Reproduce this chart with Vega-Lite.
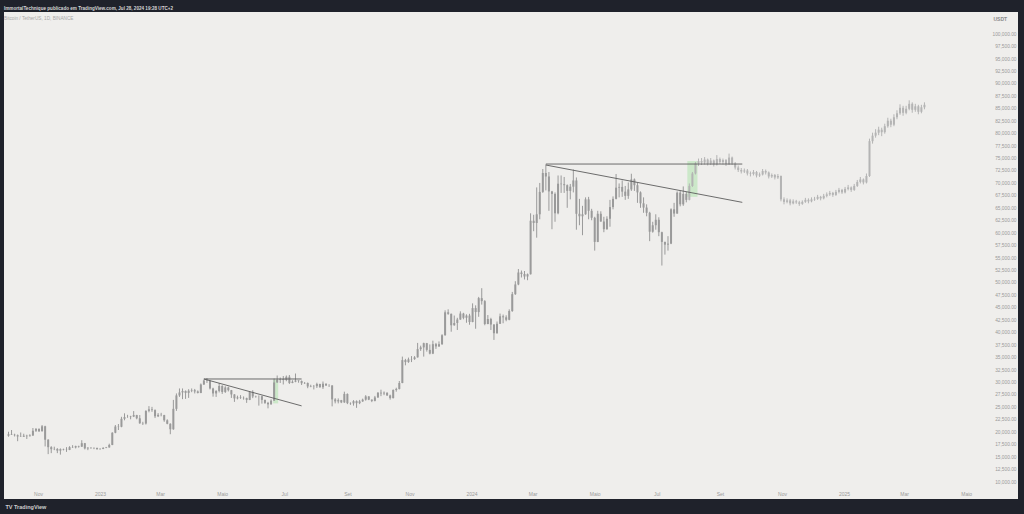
{
"$schema":"https://vega.github.io/schema/vega-lite/v6.json",
"width":1014,"height":487,
"autosize":{"type":"none"},
"padding":{"left":4,"top":12,"right":6,"bottom":15},
"background":"#1f222b",
"config":{"view":{"fill":"#efeeec","stroke":null},
"axisY":{"orient":"right","values":[10000,12500,15000,17500,20000,22500,25000,27500,30000,32500,35000,37500,40000,42500,45000,47500,50000,52500,55000,57500,60000,62500,65000,67500,70000,72500,75000,77500,80000,82500,85000,87500,90000,92500,95000,97500,100000],"format":",.2f","domain":false,"ticks":false,"grid":false,"labelAlign":"right","labelPadding":-2,"labelFontSize":4.8,"labelColor":"#9a9a9a","labelFont":"Liberation Sans","labelBaseline":"middle","labelOverlap":false,"labelFlush":false,"titleAngle":0,"titleX":-25,"titleY":6,"titleAlign":"left","titleBaseline":"middle","titleFontSize":5,"titleColor":"#8a8a8a","titleFont":"Liberation Sans"}},
"title":{"text":"ImmortalTechnique publicado em TradingView.com, Jul 28, 2024 19:28 UTC+2","subtitle":"Bitcoin / TetherUS, 1D, BINANCE","anchor":"start","frame":"group","offset":-9,"fontSize":4.6,"fontWeight":"bold","color":"#d6d6d6","font":"Liberation Sans","subtitleFontSize":4.7,"subtitleColor":"#a8a8a8","subtitleFont":"Liberation Sans","subtitlePadding":6},
"datasets":{
"lines":[
{"t":"2024-03-14","t2":"2024-09-23","p":73900,"p2":73900},
{"t":"2024-03-14","t2":"2024-09-23","p":73700,"p2":66200},
{"t":"2023-04-13","t2":"2023-07-18","p":30700,"p2":30700},
{"t":"2023-04-13","t2":"2023-07-18","p":30700,"p2":25300}
],
"boxes":[
{"t":"2023-06-20","t2":"2023-06-25","p":25800,"p2":30600},
{"t":"2024-07-31","t2":"2024-08-10","p":67300,"p2":74500}
],
"candles":[
{"t":"2022-10-03","o":19300,"h":20100,"l":19100,"c":19600,"s":"r"},
{"t":"2022-10-06","o":19600,"h":20450,"l":19450,"c":19500,"s":"r"},
{"t":"2022-10-09","o":19500,"h":19700,"l":19150,"c":19400,"s":"r"},
{"t":"2022-10-12","o":19400,"h":19550,"l":18200,"c":19150,"s":"r"},
{"t":"2022-10-15","o":19150,"h":19950,"l":19050,"c":19100,"s":"r"},
{"t":"2022-10-18","o":19100,"h":19700,"l":19050,"c":19300,"s":"r"},
{"t":"2022-10-21","o":19300,"h":19500,"l":18650,"c":19200,"s":"r"},
{"t":"2022-10-24","o":19200,"h":19600,"l":19150,"c":19350,"s":"r"},
{"t":"2022-10-27","o":19350,"h":20850,"l":19250,"c":20300,"s":"r"},
{"t":"2022-10-30","o":20300,"h":20850,"l":20050,"c":20650,"s":"r"},
{"t":"2022-11-02","o":20650,"h":20800,"l":20050,"c":20200,"s":"r"},
{"t":"2022-11-05","o":20200,"h":21450,"l":20150,"c":21200,"s":"r"},
{"t":"2022-11-08","o":21200,"h":21300,"l":17150,"c":18500,"s":"r"},
{"t":"2022-11-11","o":18500,"h":18600,"l":15600,"c":17000,"s":"r"},
{"t":"2022-11-14","o":17000,"h":17200,"l":15800,"c":16600,"s":"r"},
{"t":"2022-11-17","o":16600,"h":17100,"l":16400,"c":16650,"s":"r"},
{"t":"2022-11-20","o":16650,"h":16800,"l":15800,"c":16300,"s":"r"},
{"t":"2022-11-23","o":16300,"h":16750,"l":15500,"c":16600,"s":"r"},
{"t":"2022-11-26","o":16600,"h":16700,"l":16350,"c":16500,"s":"r"},
{"t":"2022-11-29","o":16500,"h":17000,"l":16050,"c":16450,"s":"r"},
{"t":"2022-12-02","o":16450,"h":17200,"l":16400,"c":17000,"s":"r"},
{"t":"2022-12-05","o":17000,"h":17400,"l":16850,"c":16950,"s":"r"},
{"t":"2022-12-08","o":16950,"h":17300,"l":16750,"c":17200,"s":"r"},
{"t":"2022-12-11","o":17200,"h":17300,"l":16900,"c":17100,"s":"r"},
{"t":"2022-12-14","o":17100,"h":18400,"l":17050,"c":17800,"s":"r"},
{"t":"2022-12-17","o":17800,"h":17850,"l":16550,"c":16750,"s":"r"},
{"t":"2022-12-20","o":16750,"h":17000,"l":16400,"c":16900,"s":"r"},
{"t":"2022-12-23","o":16900,"h":16950,"l":16700,"c":16800,"s":"r"},
{"t":"2022-12-26","o":16800,"h":16950,"l":16600,"c":16850,"s":"r"},
{"t":"2022-12-29","o":16850,"h":16900,"l":16500,"c":16600,"s":"r"},
{"t":"2023-01-01","o":16600,"h":16800,"l":16500,"c":16650,"s":"r"},
{"t":"2023-01-04","o":16650,"h":17000,"l":16600,"c":16850,"s":"r"},
{"t":"2023-01-07","o":16850,"h":17050,"l":16800,"c":16950,"s":"r"},
{"t":"2023-01-10","o":16950,"h":17700,"l":16900,"c":17450,"s":"r"},
{"t":"2023-01-13","o":17450,"h":20000,"l":17400,"c":19900,"s":"r"},
{"t":"2023-01-16","o":19900,"h":21450,"l":19800,"c":21150,"s":"r"},
{"t":"2023-01-19","o":21150,"h":21650,"l":20450,"c":21100,"s":"r"},
{"t":"2023-01-22","o":21100,"h":23100,"l":21000,"c":22700,"s":"r"},
{"t":"2023-01-25","o":22700,"h":23800,"l":22400,"c":23050,"s":"r"},
{"t":"2023-01-28","o":23050,"h":23500,"l":22900,"c":23050,"s":"r"},
{"t":"2023-01-31","o":23050,"h":23300,"l":22600,"c":23150,"s":"r"},
{"t":"2023-02-03","o":23150,"h":24250,"l":23050,"c":23450,"s":"r"},
{"t":"2023-02-06","o":23450,"h":23500,"l":22600,"c":22800,"s":"r"},
{"t":"2023-02-09","o":22800,"h":23450,"l":21700,"c":21800,"s":"r"},
{"t":"2023-02-12","o":21800,"h":22100,"l":21450,"c":21750,"s":"r"},
{"t":"2023-02-15","o":21750,"h":24400,"l":21550,"c":24300,"s":"r"},
{"t":"2023-02-18","o":24300,"h":25250,"l":24000,"c":24600,"s":"r"},
{"t":"2023-02-21","o":24600,"h":25100,"l":24100,"c":24450,"s":"r"},
{"t":"2023-02-24","o":24450,"h":24600,"l":22850,"c":23200,"s":"r"},
{"t":"2023-02-27","o":23200,"h":23850,"l":23050,"c":23500,"s":"r"},
{"t":"2023-03-02","o":23500,"h":23900,"l":23200,"c":23450,"s":"r"},
{"t":"2023-03-05","o":23450,"h":23500,"l":22100,"c":22400,"s":"r"},
{"t":"2023-03-08","o":22400,"h":22600,"l":21600,"c":21700,"s":"r"},
{"t":"2023-03-11","o":21700,"h":21800,"l":19600,"c":20600,"s":"r"},
{"t":"2023-03-14","o":20600,"h":26500,"l":20500,"c":24700,"s":"r"},
{"t":"2023-03-17","o":24700,"h":27800,"l":24300,"c":27400,"s":"r"},
{"t":"2023-03-20","o":27400,"h":28800,"l":27100,"c":28000,"s":"r"},
{"t":"2023-03-23","o":28000,"h":28800,"l":26650,"c":28300,"s":"r"},
{"t":"2023-03-26","o":28300,"h":28400,"l":26700,"c":27900,"s":"r"},
{"t":"2023-03-29","o":27900,"h":28650,"l":26900,"c":28350,"s":"r"},
{"t":"2023-04-01","o":28350,"h":28800,"l":28050,"c":28450,"s":"r"},
{"t":"2023-04-04","o":28450,"h":28700,"l":27800,"c":28200,"s":"r"},
{"t":"2023-04-07","o":28200,"h":28400,"l":27800,"c":27900,"s":"r"},
{"t":"2023-04-10","o":27900,"h":29800,"l":27850,"c":29600,"s":"r"},
{"t":"2023-04-13","o":29600,"h":30600,"l":29500,"c":30400,"s":"r"},
{"t":"2023-04-16","o":30400,"h":30900,"l":29900,"c":30300,"s":"r"},
{"t":"2023-04-19","o":30300,"h":30500,"l":28600,"c":28800,"s":"r"},
{"t":"2023-04-22","o":28800,"h":28950,"l":27150,"c":27800,"s":"r"},
{"t":"2023-04-25","o":27800,"h":28450,"l":27100,"c":28300,"s":"r"},
{"t":"2023-04-28","o":28300,"h":29900,"l":28000,"c":29300,"s":"r"},
{"t":"2023-05-01","o":29300,"h":29450,"l":27700,"c":28100,"s":"r"},
{"t":"2023-05-04","o":28100,"h":29250,"l":27900,"c":29000,"s":"r"},
{"t":"2023-05-07","o":29000,"h":29150,"l":28200,"c":28450,"s":"r"},
{"t":"2023-05-10","o":28450,"h":28500,"l":26900,"c":27600,"s":"r"},
{"t":"2023-05-13","o":27600,"h":27650,"l":26100,"c":26800,"s":"r"},
{"t":"2023-05-16","o":26800,"h":27350,"l":26600,"c":27000,"s":"r"},
{"t":"2023-05-19","o":27000,"h":27450,"l":26700,"c":26900,"s":"r"},
{"t":"2023-05-22","o":26900,"h":27200,"l":26550,"c":26850,"s":"r"},
{"t":"2023-05-25","o":26850,"h":26950,"l":25900,"c":26500,"s":"r"},
{"t":"2023-05-28","o":26500,"h":28250,"l":26450,"c":28100,"s":"r"},
{"t":"2023-05-31","o":28100,"h":28450,"l":26850,"c":27200,"s":"r"},
{"t":"2023-06-03","o":27200,"h":27350,"l":26950,"c":27250,"s":"r"},
{"t":"2023-06-06","o":27250,"h":27400,"l":25350,"c":27250,"s":"r"},
{"t":"2023-06-09","o":27250,"h":27350,"l":25750,"c":26500,"s":"r"},
{"t":"2023-06-12","o":26500,"h":26550,"l":25700,"c":25900,"s":"r"},
{"t":"2023-06-15","o":25900,"h":26100,"l":24800,"c":25600,"s":"r"},
{"t":"2023-06-18","o":25600,"h":26600,"l":25550,"c":26350,"s":"r"},
{"t":"2023-06-21","o":26350,"h":30800,"l":26300,"c":30000,"s":"r"},
{"t":"2023-06-24","o":30000,"h":31400,"l":29950,"c":30550,"s":"r"},
{"t":"2023-06-27","o":30550,"h":31000,"l":29900,"c":30700,"s":"r"},
{"t":"2023-06-30","o":30700,"h":31300,"l":29600,"c":30500,"s":"r"},
{"t":"2023-07-03","o":30500,"h":31400,"l":30250,"c":31150,"s":"r"},
{"t":"2023-07-06","o":31150,"h":31500,"l":29700,"c":29900,"s":"r"},
{"t":"2023-07-09","o":29900,"h":30450,"l":29850,"c":30150,"s":"r"},
{"t":"2023-07-12","o":30150,"h":31800,"l":30050,"c":30400,"s":"r"},
{"t":"2023-07-15","o":30400,"h":30450,"l":29950,"c":30300,"s":"r"},
{"t":"2023-07-18","o":30300,"h":30400,"l":29500,"c":29850,"s":"r"},
{"t":"2023-07-21","o":29850,"h":30100,"l":29700,"c":29900,"s":"r"},
{"t":"2023-07-24","o":29900,"h":30000,"l":28850,"c":29200,"s":"r"},
{"t":"2023-07-27","o":29200,"h":29550,"l":29050,"c":29300,"s":"r"},
{"t":"2023-07-30","o":29300,"h":29500,"l":28600,"c":29250,"s":"r"},
{"t":"2023-08-02","o":29250,"h":29950,"l":28900,"c":29700,"s":"r"},
{"t":"2023-08-05","o":29700,"h":29750,"l":28950,"c":29050,"s":"r"},
{"t":"2023-08-08","o":29050,"h":30200,"l":28700,"c":29750,"s":"r"},
{"t":"2023-08-11","o":29750,"h":29800,"l":29300,"c":29400,"s":"r"},
{"t":"2023-08-14","o":29400,"h":29650,"l":29100,"c":29400,"s":"r"},
{"t":"2023-08-17","o":29400,"h":29450,"l":25200,"c":26600,"s":"r"},
{"t":"2023-08-20","o":26600,"h":26850,"l":25800,"c":26200,"s":"r"},
{"t":"2023-08-23","o":26200,"h":26800,"l":25800,"c":26450,"s":"r"},
{"t":"2023-08-26","o":26450,"h":26500,"l":25850,"c":26000,"s":"r"},
{"t":"2023-08-29","o":26000,"h":28150,"l":25900,"c":27700,"s":"r"},
{"t":"2023-09-01","o":27700,"h":27800,"l":25650,"c":25850,"s":"r"},
{"t":"2023-09-04","o":25850,"h":26000,"l":25500,"c":25800,"s":"r"},
{"t":"2023-09-07","o":25800,"h":26450,"l":25350,"c":26250,"s":"r"},
{"t":"2023-09-10","o":26250,"h":26400,"l":24900,"c":25850,"s":"r"},
{"t":"2023-09-13","o":25850,"h":26500,"l":25650,"c":26200,"s":"r"},
{"t":"2023-09-16","o":26200,"h":26750,"l":26100,"c":26550,"s":"r"},
{"t":"2023-09-19","o":26550,"h":27450,"l":26350,"c":27200,"s":"r"},
{"t":"2023-09-22","o":27200,"h":27250,"l":26450,"c":26550,"s":"r"},
{"t":"2023-09-25","o":26550,"h":26600,"l":26050,"c":26300,"s":"r"},
{"t":"2023-09-28","o":26300,"h":27300,"l":26200,"c":27000,"s":"r"},
{"t":"2023-10-01","o":27000,"h":28050,"l":26900,"c":27950,"s":"r"},
{"t":"2023-10-04","o":27950,"h":28550,"l":27250,"c":27800,"s":"r"},
{"t":"2023-10-07","o":27800,"h":28200,"l":27450,"c":27950,"s":"r"},
{"t":"2023-10-10","o":27950,"h":28000,"l":27300,"c":27400,"s":"r"},
{"t":"2023-10-13","o":27400,"h":27550,"l":26550,"c":26850,"s":"r"},
{"t":"2023-10-16","o":26850,"h":28600,"l":26800,"c":28500,"s":"r"},
{"t":"2023-10-19","o":28500,"h":28950,"l":28150,"c":28700,"s":"r"},
{"t":"2023-10-22","o":28700,"h":30300,"l":28600,"c":29900,"s":"r"},
{"t":"2023-10-25","o":29900,"h":35200,"l":29850,"c":34500,"s":"r"},
{"t":"2023-10-28","o":34500,"h":34750,"l":33450,"c":34100,"s":"r"},
{"t":"2023-10-31","o":34100,"h":35000,"l":33950,"c":34650,"s":"r"},
{"t":"2023-11-03","o":34650,"h":35300,"l":34100,"c":34700,"s":"r"},
{"t":"2023-11-06","o":34700,"h":35300,"l":34550,"c":35050,"s":"r"},
{"t":"2023-11-09","o":35050,"h":37950,"l":35000,"c":36700,"s":"r"},
{"t":"2023-11-12","o":36700,"h":37400,"l":36350,"c":37050,"s":"r"},
{"t":"2023-11-15","o":37050,"h":38000,"l":35200,"c":37900,"s":"r"},
{"t":"2023-11-18","o":37900,"h":37950,"l":36200,"c":36550,"s":"r"},
{"t":"2023-11-21","o":36550,"h":37650,"l":35650,"c":35800,"s":"r"},
{"t":"2023-11-24","o":35800,"h":38400,"l":35700,"c":37700,"s":"r"},
{"t":"2023-11-27","o":37700,"h":37950,"l":36750,"c":37250,"s":"r"},
{"t":"2023-11-30","o":37250,"h":38250,"l":37150,"c":37700,"s":"r"},
{"t":"2023-12-03","o":37700,"h":39700,"l":37550,"c":39500,"s":"r"},
{"t":"2023-12-06","o":39500,"h":44500,"l":39400,"c":44100,"s":"r"},
{"t":"2023-12-09","o":44100,"h":44700,"l":43600,"c":43800,"s":"r"},
{"t":"2023-12-12","o":43800,"h":43850,"l":40200,"c":41500,"s":"r"},
{"t":"2023-12-15","o":41500,"h":43450,"l":41400,"c":41950,"s":"r"},
{"t":"2023-12-18","o":41950,"h":43000,"l":40550,"c":42650,"s":"r"},
{"t":"2023-12-21","o":42650,"h":44300,"l":42600,"c":43850,"s":"r"},
{"t":"2023-12-24","o":43850,"h":44000,"l":42700,"c":43000,"s":"r"},
{"t":"2023-12-27","o":43000,"h":43700,"l":42000,"c":43450,"s":"r"},
{"t":"2023-12-30","o":43450,"h":43800,"l":41600,"c":42150,"s":"r"},
{"t":"2024-01-02","o":42150,"h":45900,"l":42100,"c":44950,"s":"r"},
{"t":"2024-01-05","o":44950,"h":45500,"l":40800,"c":44150,"s":"r"},
{"t":"2024-01-08","o":44150,"h":47200,"l":43200,"c":46950,"s":"r"},
{"t":"2024-01-11","o":46950,"h":48950,"l":45650,"c":46350,"s":"r"},
{"t":"2024-01-14","o":46350,"h":46550,"l":41500,"c":41750,"s":"r"},
{"t":"2024-01-17","o":41750,"h":43550,"l":41700,"c":42750,"s":"r"},
{"t":"2024-01-20","o":42750,"h":43000,"l":40550,"c":41650,"s":"r"},
{"t":"2024-01-23","o":41650,"h":41700,"l":38550,"c":39900,"s":"r"},
{"t":"2024-01-26","o":39900,"h":42250,"l":39800,"c":41800,"s":"r"},
{"t":"2024-01-29","o":41800,"h":43850,"l":41750,"c":43300,"s":"r"},
{"t":"2024-02-01","o":43300,"h":43650,"l":41900,"c":43100,"s":"r"},
{"t":"2024-02-04","o":43100,"h":43500,"l":42300,"c":42600,"s":"r"},
{"t":"2024-02-07","o":42600,"h":44700,"l":42500,"c":44350,"s":"r"},
{"t":"2024-02-10","o":44350,"h":48200,"l":44200,"c":47750,"s":"r"},
{"t":"2024-02-13","o":47750,"h":50350,"l":47600,"c":49700,"s":"r"},
{"t":"2024-02-16","o":49700,"h":52800,"l":49550,"c":52100,"s":"r"},
{"t":"2024-02-19","o":52100,"h":52500,"l":51100,"c":51800,"s":"r"},
{"t":"2024-02-22","o":51800,"h":52400,"l":50700,"c":51300,"s":"r"},
{"t":"2024-02-25","o":51300,"h":51900,"l":50550,"c":51750,"s":"r"},
{"t":"2024-02-28","o":51750,"h":64000,"l":51700,"c":62500,"s":"r"},
{"t":"2024-03-02","o":62500,"h":63700,"l":60400,"c":62050,"s":"r"},
{"t":"2024-03-05","o":62050,"h":69200,"l":59100,"c":63800,"s":"r"},
{"t":"2024-03-08","o":63800,"h":70100,"l":62800,"c":68300,"s":"r"},
{"t":"2024-03-11","o":68300,"h":72900,"l":68100,"c":72100,"s":"r"},
{"t":"2024-03-14","o":72100,"h":73800,"l":68600,"c":71400,"s":"r"},
{"t":"2024-03-17","o":71400,"h":72300,"l":64500,"c":68400,"s":"r"},
{"t":"2024-03-20","o":68400,"h":68500,"l":60800,"c":67900,"s":"r"},
{"t":"2024-03-23","o":67900,"h":68200,"l":62300,"c":64000,"s":"r"},
{"t":"2024-03-26","o":64000,"h":71600,"l":63800,"c":69950,"s":"r"},
{"t":"2024-03-29","o":69950,"h":71600,"l":68100,"c":69850,"s":"r"},
{"t":"2024-04-01","o":69850,"h":71300,"l":68100,"c":69650,"s":"r"},
{"t":"2024-04-04","o":69650,"h":69800,"l":65100,"c":68500,"s":"r"},
{"t":"2024-04-07","o":68500,"h":69900,"l":66800,"c":69350,"s":"r"},
{"t":"2024-04-10","o":69350,"h":72800,"l":68200,"c":70600,"s":"r"},
{"t":"2024-04-13","o":70600,"h":71200,"l":60700,"c":63900,"s":"r"},
{"t":"2024-04-16","o":63900,"h":66900,"l":61600,"c":63400,"s":"r"},
{"t":"2024-04-19","o":63400,"h":65500,"l":59600,"c":63800,"s":"r"},
{"t":"2024-04-22","o":63800,"h":67200,"l":63700,"c":66800,"s":"r"},
{"t":"2024-04-25","o":66800,"h":67300,"l":62800,"c":64500,"s":"r"},
{"t":"2024-04-28","o":64500,"h":64900,"l":62600,"c":63100,"s":"r"},
{"t":"2024-05-01","o":63100,"h":63300,"l":56500,"c":58250,"s":"r"},
{"t":"2024-05-04","o":58250,"h":64500,"l":58200,"c":63900,"s":"r"},
{"t":"2024-05-07","o":63900,"h":64400,"l":62300,"c":62350,"s":"r"},
{"t":"2024-05-10","o":62350,"h":63300,"l":60200,"c":60800,"s":"r"},
{"t":"2024-05-13","o":60800,"h":63400,"l":60700,"c":62900,"s":"r"},
{"t":"2024-05-16","o":62900,"h":66700,"l":61300,"c":65250,"s":"r"},
{"t":"2024-05-19","o":65250,"h":67400,"l":64800,"c":66900,"s":"r"},
{"t":"2024-05-22","o":66900,"h":71900,"l":66800,"c":69150,"s":"r"},
{"t":"2024-05-25","o":69150,"h":70000,"l":67200,"c":69300,"s":"r"},
{"t":"2024-05-28","o":69300,"h":70600,"l":67300,"c":68350,"s":"r"},
{"t":"2024-05-31","o":68350,"h":69500,"l":66700,"c":67500,"s":"r"},
{"t":"2024-06-03","o":67500,"h":70200,"l":66900,"c":68800,"s":"r"},
{"t":"2024-06-06","o":68800,"h":71950,"l":68500,"c":70800,"s":"r"},
{"t":"2024-06-09","o":70800,"h":71000,"l":68500,"c":69650,"s":"r"},
{"t":"2024-06-12","o":69650,"h":70100,"l":66100,"c":68200,"s":"r"},
{"t":"2024-06-15","o":68200,"h":68400,"l":65100,"c":66000,"s":"r"},
{"t":"2024-06-18","o":66000,"h":67200,"l":64100,"c":65150,"s":"r"},
{"t":"2024-06-21","o":65150,"h":65800,"l":63400,"c":64100,"s":"r"},
{"t":"2024-06-24","o":64100,"h":64300,"l":58400,"c":60300,"s":"r"},
{"t":"2024-06-27","o":60300,"h":62300,"l":60100,"c":61600,"s":"r"},
{"t":"2024-06-30","o":61600,"h":63800,"l":60700,"c":62700,"s":"r"},
{"t":"2024-07-03","o":62700,"h":63200,"l":59400,"c":60200,"s":"r"},
{"t":"2024-07-06","o":60200,"h":60300,"l":53500,"c":58250,"s":"r"},
{"t":"2024-07-09","o":58250,"h":58300,"l":55700,"c":57700,"s":"r"},
{"t":"2024-07-12","o":57700,"h":59400,"l":56500,"c":57900,"s":"r"},
{"t":"2024-07-15","o":57900,"h":65000,"l":57800,"c":64800,"s":"r"},
{"t":"2024-07-18","o":64800,"h":66100,"l":63300,"c":63950,"s":"r"},
{"t":"2024-07-21","o":63950,"h":68400,"l":63900,"c":68150,"s":"r"},
{"t":"2024-07-24","o":68150,"h":68500,"l":65400,"c":65800,"s":"r"},
{"t":"2024-07-27","o":65800,"h":69400,"l":65500,"c":67900,"s":"r"},
{"t":"2024-07-30","o":67900,"h":68300,"l":66200,"c":66700,"s":"r"},
{"t":"2024-08-02","o":66700,"h":70000,"l":66600,"c":69500,"s":"p"},
{"t":"2024-08-05","o":69500,"h":72300,"l":69300,"c":72000,"s":"p"},
{"t":"2024-08-08","o":72000,"h":74300,"l":71800,"c":74000,"s":"p"},
{"t":"2024-08-11","o":74000,"h":75000,"l":73500,"c":74500,"s":"p"},
{"t":"2024-08-14","o":74500,"h":75100,"l":73700,"c":74200,"s":"p"},
{"t":"2024-08-17","o":74200,"h":75300,"l":73800,"c":74800,"s":"p"},
{"t":"2024-08-20","o":74800,"h":75000,"l":73600,"c":74000,"s":"p"},
{"t":"2024-08-23","o":74000,"h":75100,"l":73700,"c":74600,"s":"p"},
{"t":"2024-08-26","o":74600,"h":74800,"l":73400,"c":73800,"s":"p"},
{"t":"2024-08-29","o":73800,"h":75700,"l":73600,"c":74900,"s":"p"},
{"t":"2024-09-01","o":74900,"h":75200,"l":73900,"c":74300,"s":"p"},
{"t":"2024-09-04","o":74300,"h":75000,"l":73800,"c":74700,"s":"p"},
{"t":"2024-09-07","o":74700,"h":74900,"l":73500,"c":73900,"s":"p"},
{"t":"2024-09-10","o":73900,"h":76000,"l":73700,"c":75200,"s":"p"},
{"t":"2024-09-13","o":75200,"h":75400,"l":73700,"c":74000,"s":"p"},
{"t":"2024-09-16","o":74000,"h":74300,"l":72800,"c":73200,"s":"p"},
{"t":"2024-09-19","o":73200,"h":73600,"l":72300,"c":72700,"s":"p"},
{"t":"2024-09-22","o":72700,"h":73100,"l":72000,"c":72400,"s":"p"},
{"t":"2024-09-25","o":72400,"h":73000,"l":72100,"c":72600,"s":"p"},
{"t":"2024-09-28","o":72600,"h":72900,"l":71600,"c":72000,"s":"p"},
{"t":"2024-10-01","o":72000,"h":72400,"l":71400,"c":71900,"s":"p"},
{"t":"2024-10-04","o":71900,"h":72700,"l":71600,"c":72300,"s":"p"},
{"t":"2024-10-07","o":72300,"h":72500,"l":71200,"c":71600,"s":"p"},
{"t":"2024-10-10","o":71600,"h":72200,"l":71300,"c":71800,"s":"p"},
{"t":"2024-10-13","o":71800,"h":72900,"l":71600,"c":72500,"s":"p"},
{"t":"2024-10-16","o":72500,"h":72800,"l":71800,"c":72200,"s":"p"},
{"t":"2024-10-19","o":72200,"h":72400,"l":71000,"c":71400,"s":"p"},
{"t":"2024-10-22","o":71400,"h":72000,"l":71100,"c":71700,"s":"p"},
{"t":"2024-10-25","o":71700,"h":71900,"l":70800,"c":71200,"s":"p"},
{"t":"2024-10-28","o":71200,"h":71900,"l":70900,"c":71500,"s":"p"},
{"t":"2024-10-31","o":71500,"h":71600,"l":66400,"c":66800,"s":"p"},
{"t":"2024-11-03","o":66800,"h":67200,"l":65800,"c":66300,"s":"p"},
{"t":"2024-11-06","o":66300,"h":67000,"l":66000,"c":66600,"s":"p"},
{"t":"2024-11-09","o":66600,"h":66900,"l":65600,"c":66000,"s":"p"},
{"t":"2024-11-12","o":66000,"h":66800,"l":65800,"c":66400,"s":"p"},
{"t":"2024-11-15","o":66400,"h":66700,"l":65900,"c":66200,"s":"p"},
{"t":"2024-11-18","o":66200,"h":66500,"l":65500,"c":65900,"s":"p"},
{"t":"2024-11-21","o":65900,"h":66600,"l":65700,"c":66300,"s":"p"},
{"t":"2024-11-24","o":66300,"h":67100,"l":66100,"c":66700,"s":"p"},
{"t":"2024-11-27","o":66700,"h":67000,"l":66000,"c":66400,"s":"p"},
{"t":"2024-11-30","o":66400,"h":67200,"l":66200,"c":66800,"s":"p"},
{"t":"2024-12-03","o":66800,"h":67300,"l":66500,"c":66900,"s":"p"},
{"t":"2024-12-06","o":66900,"h":67700,"l":66700,"c":67300,"s":"p"},
{"t":"2024-12-09","o":67300,"h":67500,"l":66600,"c":67000,"s":"p"},
{"t":"2024-12-12","o":67000,"h":67900,"l":66800,"c":67500,"s":"p"},
{"t":"2024-12-15","o":67500,"h":68200,"l":67200,"c":67800,"s":"p"},
{"t":"2024-12-18","o":67800,"h":68500,"l":67500,"c":68100,"s":"p"},
{"t":"2024-12-21","o":68100,"h":68300,"l":67300,"c":67700,"s":"p"},
{"t":"2024-12-24","o":67700,"h":68700,"l":67500,"c":68300,"s":"p"},
{"t":"2024-12-27","o":68300,"h":69100,"l":68000,"c":68700,"s":"p"},
{"t":"2024-12-30","o":68700,"h":68900,"l":67900,"c":68200,"s":"p"},
{"t":"2025-01-02","o":68200,"h":69300,"l":68000,"c":68900,"s":"p"},
{"t":"2025-01-05","o":68900,"h":69700,"l":68600,"c":69200,"s":"p"},
{"t":"2025-01-08","o":69200,"h":69400,"l":68300,"c":68700,"s":"p"},
{"t":"2025-01-11","o":68700,"h":69900,"l":68500,"c":69500,"s":"p"},
{"t":"2025-01-14","o":69500,"h":70700,"l":69300,"c":70300,"s":"p"},
{"t":"2025-01-17","o":70300,"h":71300,"l":70000,"c":70800,"s":"p"},
{"t":"2025-01-20","o":70800,"h":71000,"l":69800,"c":70200,"s":"p"},
{"t":"2025-01-23","o":70200,"h":72000,"l":70000,"c":71500,"s":"p"},
{"t":"2025-01-26","o":71500,"h":79000,"l":71300,"c":78500,"s":"p"},
{"t":"2025-01-29","o":78500,"h":80200,"l":78000,"c":79600,"s":"p"},
{"t":"2025-02-01","o":79600,"h":80900,"l":79200,"c":80200,"s":"p"},
{"t":"2025-02-04","o":80200,"h":81400,"l":79700,"c":80800,"s":"p"},
{"t":"2025-02-07","o":80800,"h":81200,"l":79500,"c":80300,"s":"p"},
{"t":"2025-02-10","o":80300,"h":82000,"l":80000,"c":81500,"s":"p"},
{"t":"2025-02-13","o":81500,"h":83200,"l":81200,"c":82600,"s":"p"},
{"t":"2025-02-16","o":82600,"h":83000,"l":81300,"c":81800,"s":"p"},
{"t":"2025-02-19","o":81800,"h":83900,"l":81500,"c":83300,"s":"p"},
{"t":"2025-02-22","o":83300,"h":84700,"l":82900,"c":84100,"s":"p"},
{"t":"2025-02-25","o":84100,"h":85900,"l":83800,"c":85200,"s":"p"},
{"t":"2025-02-28","o":85200,"h":85600,"l":83600,"c":84200,"s":"p"},
{"t":"2025-03-03","o":84200,"h":85600,"l":83900,"c":85000,"s":"p"},
{"t":"2025-03-06","o":85000,"h":86700,"l":84700,"c":86000,"s":"p"},
{"t":"2025-03-09","o":86000,"h":86300,"l":84200,"c":84800,"s":"p"},
{"t":"2025-03-12","o":84800,"h":86000,"l":84400,"c":85500,"s":"p"},
{"t":"2025-03-15","o":85500,"h":85800,"l":83900,"c":84400,"s":"p"},
{"t":"2025-03-18","o":84400,"h":85800,"l":84100,"c":85300,"s":"p"},
{"t":"2025-03-21","o":85300,"h":86300,"l":84900,"c":85800,"s":"p"}
]
},
"encoding":{
"x":{"field":"t","type":"temporal","scale":{"type":"utc","domain":[{"year":2022,"month":10,"date":3,"hours":12,"utc":true},{"year":2025,"month":6,"date":16,"utc":true}]},
"axis":{"values":[{"year":2022,"month":11,"date":1,"utc":true},{"year":2023,"month":1,"date":1,"utc":true},{"year":2023,"month":3,"date":1,"utc":true},{"year":2023,"month":5,"date":1,"utc":true},{"year":2023,"month":7,"date":1,"utc":true},{"year":2023,"month":9,"date":1,"utc":true},{"year":2023,"month":11,"date":1,"utc":true},{"year":2024,"month":1,"date":1,"utc":true},{"year":2024,"month":3,"date":1,"utc":true},{"year":2024,"month":5,"date":1,"utc":true},{"year":2024,"month":7,"date":1,"utc":true},{"year":2024,"month":9,"date":1,"utc":true},{"year":2024,"month":11,"date":1,"utc":true},{"year":2025,"month":1,"date":1,"utc":true},{"year":2025,"month":3,"date":1,"utc":true},{"year":2025,"month":5,"date":1,"utc":true}],
"labelExpr":"utcmonth(datum.value)==0 ? utcFormat(datum.value,'%Y') : ['Jan','Fev','Mar','Abr','Maio','Jun','Jul','Ago','Set','Out','Nov','Dez'][utcmonth(datum.value)]",
"domain":false,"ticks":false,"grid":false,"offset":-9,"labelPadding":1,"labelBaseline":"top","labelFontSize":5,"labelColor":"#9a9a9a","labelFont":"Liberation Sans","labelFlush":false,"labelOverlap":false,
"title":"TV TradingView","titleX":1,"titleY":16,"titleAlign":"left","titleBaseline":"middle","titleFontSize":5.5,"titleFontWeight":"bold","titleColor":"#cfcfcf","titleFont":"Liberation Sans"}}
},
"layer":[
{"data":{"name":"boxes"},"mark":{"type":"rect","color":"#c6e6c3","opacity":0.85},
 "encoding":{"x2":{"field":"t2"},
  "y":{"field":"p","type":"quantitative","scale":{"domain":[6584,104453],"nice":false,"zero":false},"axis":{"title":"USDT","values":[10000,12500,15000,17500,20000,22500,25000,27500,30000,32500,35000,37500,40000,42500,45000,47500,50000,52500,55000,57500,60000,62500,65000,67500,70000,72500,75000,77500,80000,82500,85000,87500,90000,92500,95000,97500,100000]}},
  "y2":{"field":"p2"}}},
{"data":{"name":"candles"},"mark":{"type":"rule","strokeWidth":1},
 "encoding":{"y":{"field":"l","type":"quantitative","scale":{"domain":[6584,104453],"nice":false,"zero":false},"axis":{"title":"USDT","values":[10000,12500,15000,17500,20000,22500,25000,27500,30000,32500,35000,37500,40000,42500,45000,47500,50000,52500,55000,57500,60000,62500,65000,67500,70000,72500,75000,77500,80000,82500,85000,87500,90000,92500,95000,97500,100000]}},"y2":{"field":"h"},
  "color":{"field":"s","type":"nominal","scale":{"domain":["r","p"],"range":["#9a9a9a","#b4b4b4"]},"legend":null}}},
{"data":{"name":"candles"},"mark":{"type":"bar","width":2},
 "encoding":{"y":{"field":"o","type":"quantitative","scale":{"domain":[6584,104453],"nice":false,"zero":false},"axis":{"title":"USDT","values":[10000,12500,15000,17500,20000,22500,25000,27500,30000,32500,35000,37500,40000,42500,45000,47500,50000,52500,55000,57500,60000,62500,65000,67500,70000,72500,75000,77500,80000,82500,85000,87500,90000,92500,95000,97500,100000]}},"y2":{"field":"c"},
  "color":{"field":"s","type":"nominal","scale":{"domain":["r","p"],"range":["#9a9a9a","#b4b4b4"]},"legend":null}}},
{"data":{"name":"lines"},"mark":{"type":"rule","color":"#5c5c5c","strokeWidth":0.9},
 "encoding":{"x2":{"field":"t2"},"y":{"field":"p","type":"quantitative","scale":{"domain":[6584,104453],"nice":false,"zero":false},"axis":{"title":"USDT","values":[10000,12500,15000,17500,20000,22500,25000,27500,30000,32500,35000,37500,40000,42500,45000,47500,50000,52500,55000,57500,60000,62500,65000,67500,70000,72500,75000,77500,80000,82500,85000,87500,90000,92500,95000,97500,100000]}},"y2":{"field":"p2"}}}
]
}
